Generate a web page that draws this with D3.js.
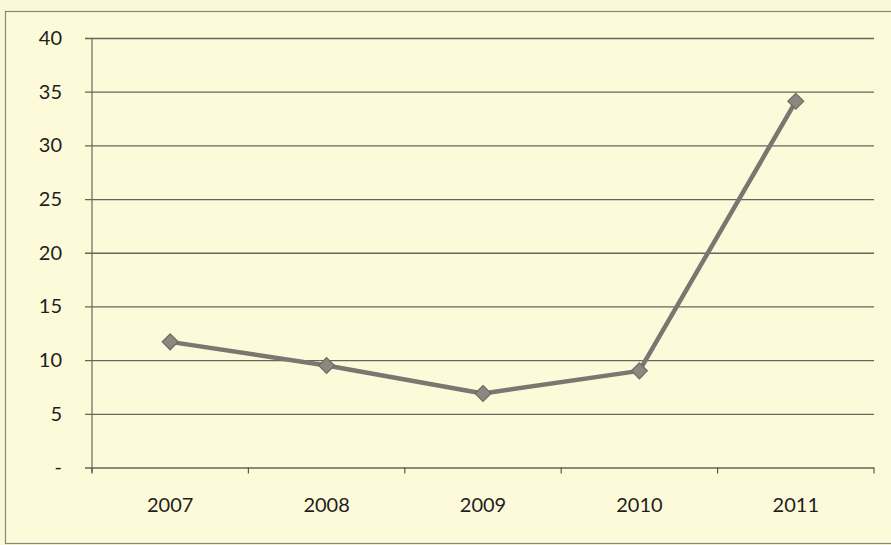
<!DOCTYPE html>
<html>
<head>
<meta charset="utf-8">
<script src="https://cdnjs.cloudflare.com/ajax/libs/d3/7.8.5/d3.min.js"></script>
<style>
  body { margin: 0; background: #fbf8d8; }
  svg { display: block; }
</style>
</head>
<body>
<script>
// chart data
var years = ["2007", "2008", "2009", "2010", "2011"];
var values = [11.7, 9.5, 6.9, 9.0, 34.1];
var yTicks = [0, 5, 10, 15, 20, 25, 30, 35, 40];

var width = 891;
var height = 545;
var margin = { left: 92, right: 17, top: 38, bottom: 78 };

var svg = d3.select("body")
    .append("svg")
      .attr("width", width)
      .attr("height", height)
      .style("background-color", "#fbf8d8");

// outer chart frame
svg.append("rect")
    .attr("x", 5.5)
    .attr("y", 11.5)
    .attr("width", width)
    .attr("height", 532)
    .attr("fill", "#fcfad9")
    .attr("stroke", "#8a877a")
    .attr("stroke-width", 1.2);

var x = d3.scaleBand()
    .domain(years)
    .range([margin.left, width - margin.right]);

var y = d3.scaleLinear()
    .domain([0, 40])
    .range([height - margin.bottom + 0.5, margin.top]);

// gridlines + y labels
var yAxis = d3.axisLeft(y)
    .tickValues(yTicks)
    .tickSize(-(width - margin.right - margin.left))
    .tickPadding(30)
    .tickFormat(function(d) { return d === 0 ? "-" : d; });

var gy = svg.append("g")
    .attr("transform", "translate(" + margin.left + ",0)")
    .call(yAxis);

gy.select(".domain").remove();
gy.selectAll(".tick line")
    .attr("x1", -7)
    .attr("stroke", "#67645c")
    .attr("stroke-width", 1.3);
gy.selectAll(".tick text")
    .attr("fill", "#1e1e1e")
    .style("font-family", "Lato, 'Open Sans', sans-serif")
    .style("font-size", "20px");

// vertical axis line
svg.append("line")
    .attr("x1", margin.left).attr("x2", margin.left)
    .attr("y1", y(40)).attr("y2", y(0) + 5)
    .attr("stroke", "#6a675e")
    .attr("stroke-width", 1.2);

// x axis
var xAxis = d3.axisBottom(x)
    .tickSize(0)
    .tickPadding(30);

var gx = svg.append("g")
    .attr("transform", "translate(0," + y(0) + ")")
    .call(xAxis);
gx.select(".domain").remove();
gx.selectAll(".tick text")
    .attr("fill", "#1e1e1e")
    .style("font-family", "Lato, 'Open Sans', sans-serif")
    .style("font-size", "20px");

// category boundary ticks
var bounds = years.map(function(d) { return x(d); }).concat([x(years[years.length - 1]) + x.bandwidth()]);
svg.selectAll(".xtick")
    .data(bounds)
    .enter()
    .append("line")
      .classed("xtick", true)
      .attr("x1", function(d) { return d; })
      .attr("x2", function(d) { return d; })
      .attr("y1", y(0))
      .attr("y2", y(0) + 6)
      .attr("stroke", "#5a5750")
      .attr("stroke-width", 1.2);

var pts = years.map(function(d, i) { return { year: d, v: values[i] }; });

var line = d3.line()
    .x(function(d) { return x(d.year) + x.bandwidth() / 2; })
    .y(function(d) { return y(d.v); });

svg.append("path")
    .datum(pts)
    .attr("d", line)
    .attr("fill", "none")
    .attr("stroke", "#7b7670")
    .attr("stroke-width", 4.5)
    .attr("stroke-linejoin", "round");

svg.selectAll(".marker")
    .data(pts)
    .enter()
    .append("path")
      .classed("marker", true)
      .attr("d", d3.symbol().type(d3.symbolDiamond2).size(160))
      .attr("transform", function(d) {
        return "translate(" + (x(d.year) + x.bandwidth() / 2) + "," + y(d.v) + ")";
      })
      .attr("fill", "#8c877f")
      .attr("stroke", "#6e6a63")
      .attr("stroke-width", 1.2);
</script>
</body>
</html>
